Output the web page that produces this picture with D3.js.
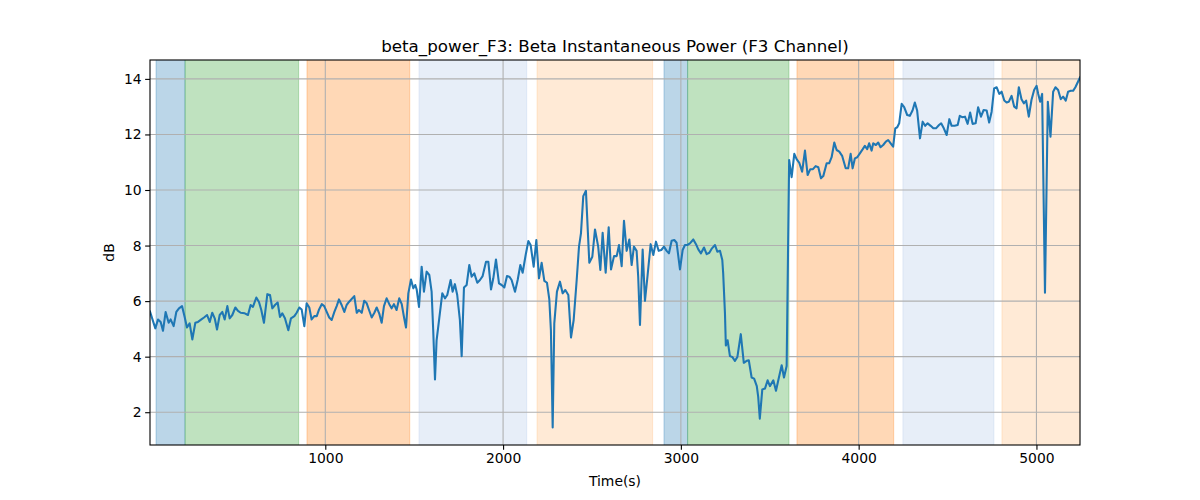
<!DOCTYPE html>
<html>
<head>
<meta charset="utf-8">
<script src="https://cdn.jsdelivr.net/npm/d3@7"></script>
<style>
  html, body { margin: 0; padding: 0; background: #ffffff; }
  svg { display: block; }
  text { font-family: "DejaVu Sans", sans-serif; fill: #000; }
</style>
</head>
<body>
<svg id="chart" width="1200" height="500"></svg>
<script>
// ---- data ----
const times = [
  14, 44, 59, 74, 87, 102, 119, 130, 147, 162, 177, 194, 209, 222, 237, 252, 269, 284, 303, 318,
  335, 350, 364, 378, 391, 406, 421, 434, 449, 462, 477, 494, 509, 524, 547, 565, 580, 593, 612, 627,
  640, 655, 674, 689, 702, 717, 732, 745, 758, 773, 792, 807, 826, 839, 854, 867, 882, 895, 910, 923,
  938, 952, 965, 980, 994, 1008, 1022, 1036, 1051, 1064, 1077, 1092, 1107, 1120, 1133, 1163, 1177, 1189, 1205, 1219,
  1233, 1246, 1261, 1276, 1289, 1303, 1317, 1330, 1345, 1360, 1373, 1386, 1401, 1416, 1430, 1443, 1454, 1467, 1482, 1495,
  1506, 1514, 1527, 1542, 1555, 1570, 1585, 1598, 1607, 1617, 1626, 1641, 1658, 1673, 1686, 1705, 1716, 1729, 1742, 1757,
  1767, 1780, 1795, 1810, 1823, 1838, 1855, 1870, 1885, 1904, 1917, 1932, 1945, 1960, 1977, 1992, 2007, 2022, 2035, 2048,
  2067, 2082, 2097, 2110, 2127, 2142, 2155, 2172, 2187, 2202, 2217, 2232, 2247, 2260, 2269, 2279, 2288, 2303, 2320, 2335,
  2350, 2367, 2382, 2397, 2414, 2427, 2438, 2451, 2466, 2485, 2502, 2517, 2535, 2547, 2560, 2577, 2594, 2607, 2624, 2639,
  2652, 2667, 2680, 2695, 2710, 2723, 2736, 2751, 2760, 2770, 2785, 2798, 2813, 2830, 2845, 2860, 2875, 2890, 2905, 2920,
  2933, 2948, 2963, 2976, 2995, 3010, 3023, 3036, 3051, 3070, 3085, 3098, 3113, 3130, 3145, 3160, 3175, 3192, 3205, 3220,
  3233, 3238, 3248, 3253, 3263, 3276, 3289, 3304, 3318, 3337, 3354, 3370, 3382, 3398, 3412, 3427, 3435, 3444, 3458, 3473,
  3488, 3501, 3520, 3535, 3548, 3567, 3580, 3595, 3609, 3623, 3638, 3651, 3666, 3682, 3698, 3713, 3728, 3743, 3758, 3773,
  3788, 3801, 3820, 3834, 3848, 3863, 3876, 3891, 3907, 3927, 3941, 3955, 3966, 3979, 3992, 4007, 4023, 4035, 4048, 4059,
  4073, 4082, 4097, 4110, 4123, 4138, 4153, 4166, 4180, 4194, 4206, 4217, 4228, 4242, 4256, 4273, 4288, 4303, 4316, 4329,
  4345, 4360, 4374, 4388, 4405, 4420, 4435, 4452, 4464, 4479, 4495, 4510, 4523, 4540, 4557, 4569, 4582, 4598, 4613, 4627,
  4641, 4658, 4672, 4688, 4703, 4720, 4734, 4748, 4762, 4776, 4791, 4804, 4819, 4832, 4845, 4860, 4875, 4888, 4901, 4916,
  4929, 4942, 4957, 4972, 4987, 5001, 5010, 5021, 5032, 5048, 5064, 5079, 5094, 5107, 5122, 5137, 5150, 5165, 5178, 5193,
  5206, 5219, 5245
];
const betaPower = [
  5.62, 5.02, 5.34, 5.25, 4.93, 5.61, 5.22, 5.34, 5.10, 5.61, 5.74, 5.82, 5.43, 5.05, 5.20, 4.62, 5.22, 5.25, 5.34, 5.41,
  5.50, 5.25, 5.58, 5.38, 4.98, 5.50, 5.61, 5.34, 5.82, 5.38, 5.50, 5.77, 5.65, 5.58, 5.56, 5.50, 5.86, 5.79, 6.13, 5.97,
  5.68, 5.22, 6.25, 6.22, 5.74, 5.86, 5.95, 5.43, 5.56, 5.38, 4.95, 5.38, 5.46, 5.58, 5.77, 5.70, 5.10, 5.92, 5.77, 5.34,
  5.46, 5.46, 5.70, 5.89, 5.82, 5.61, 5.41, 5.32, 5.61, 5.82, 6.06, 5.86, 5.61, 5.86, 5.97, 6.18, 5.58, 5.68, 5.58, 6.01,
  5.92, 5.68, 5.41, 5.58, 5.77, 5.56, 5.22, 5.82, 6.10, 5.89, 5.74, 5.89, 5.68, 6.10, 5.89, 5.41, 5.05, 6.28, 6.78, 6.46,
  6.58, 6.42, 5.79, 7.24, 6.34, 7.06, 6.94, 6.34, 4.95, 3.18, 4.59, 5.38, 6.28, 6.10, 6.22, 6.76, 6.34, 6.61, 6.22, 5.32,
  4.02, 6.49, 6.58, 7.30, 6.88, 7.00, 6.66, 6.76, 6.90, 7.42, 7.42, 6.42, 6.82, 7.50, 6.64, 6.58, 6.49, 6.90, 6.88, 6.76,
  6.34, 6.76, 7.30, 7.02, 7.66, 8.16, 8.02, 7.24, 8.20, 6.82, 7.38, 6.73, 6.66, 6.06, 4.95, 1.45, 5.20, 6.34, 6.70, 6.28,
  6.40, 6.22, 4.69, 5.32, 6.76, 7.96, 8.44, 9.78, 9.97, 7.38, 7.60, 8.58, 7.96, 7.12, 8.46, 7.02, 8.66, 7.14, 7.62, 7.62,
  8.02, 7.26, 8.89, 7.81, 8.22, 7.30, 7.96, 7.81, 6.88, 5.14, 7.86, 6.01, 6.94, 8.05, 7.66, 8.14, 7.81, 7.84, 7.96, 7.81,
  7.72, 8.17, 8.20, 8.10, 7.14, 7.84, 8.02, 8.02, 8.08, 8.22, 8.05, 7.86, 7.72, 7.93, 7.69, 7.74, 7.90, 8.02, 7.78, 7.81,
  7.48, 7.00, 5.56, 4.40, 4.59, 4.02, 3.99, 3.85, 3.99, 4.81, 3.78, 3.85, 3.87, 3.25, 3.21, 2.94, 2.55, 1.77, 2.82, 2.85,
  3.15, 2.94, 3.15, 2.77, 3.15, 3.69, 3.25, 3.66, 11.08, 10.46, 11.30, 11.11, 10.98, 10.66, 11.42, 10.54, 10.75, 10.75, 10.86, 10.82,
  10.42, 10.50, 10.96, 10.96, 11.18, 11.71, 11.44, 11.38, 11.23, 10.78, 10.78, 11.30, 10.78, 11.14, 11.18, 11.32, 11.47, 11.59, 11.47, 11.68,
  11.42, 11.68, 11.62, 11.71, 11.54, 11.62, 11.74, 11.80, 11.68, 11.56, 12.22, 12.26, 12.40, 13.10, 12.98, 12.70, 12.67, 12.86, 13.15, 12.86,
  11.86, 12.46, 12.31, 12.40, 12.31, 12.22, 12.22, 12.34, 12.40, 12.22, 11.98, 12.55, 12.31, 12.31, 12.34, 12.67, 12.62, 12.64, 12.38, 12.79,
  12.38, 12.40, 12.98, 12.64, 12.88, 12.86, 12.43, 12.82, 13.66, 13.70, 13.46, 13.54, 13.22, 13.15, 13.18, 13.39, 13.00, 12.94, 13.70, 13.27,
  13.12, 13.22, 12.64, 13.24, 13.60, 13.75, 13.46, 13.18, 13.46, 6.30, 13.18, 11.92, 13.54, 13.70, 13.60, 13.27, 13.36, 13.22, 13.54, 13.57,
  13.57, 13.70, 14.05
];

// shaded intervals (seconds) and their stage category
const spanStarts = [48, 211, 897, 1527, 2191, 2905, 3038, 3653, 4249, 4806];
const spanEnds   = [211, 850, 1475, 2133, 2841, 3038, 3608, 4197, 4761, 5300];
const spanStages = ["s1", "s2", "s3", "s4", "s5", "s1", "s2", "s3", "s4", "s5"];

const xTicks = [1000, 2000, 3000, 4000, 5000];
const yTicks = [2, 4, 6, 8, 10, 12, 14];

const titleText = "beta_power_F3: Beta Instantaneous Power (F3 Channel)";
const xLabelText = "Time(s)";
const yLabelText = "dB";

(function () {
  // ---- styles ----
  const stageColor = { s1: "#1f77b4", s2: "#2ca02c", s3: "#ff7f0e", s4: "#aec7e8", s5: "#ffbb78" };

  // ---- layout ----
  const mLeft = 150, mRight = 1080, mTop = 60, mBottom = 445;

  const svg = d3.select("#chart");
  const data = times.map((t, i) => ({ t, v: betaPower[i] }));

  const x = d3.scaleLinear().domain(d3.extent(times)).range([mLeft, mRight]);
  const [vmin, vmax] = d3.extent(betaPower);
  const pad = (vmax - vmin) * 0.05;
  const y = d3.scaleLinear().domain([vmin - pad, vmax + pad]).range([mBottom, mTop]);

  svg.append("defs").append("clipPath").attr("id", "clip")
    .append("rect").attr("x", mLeft).attr("y", mTop).attr("width", mRight - mLeft).attr("height", mBottom - mTop);

  const plot = svg.append("g").attr("clip-path", "url(#clip)");

  // spans
  const spans = spanStarts.map((s, i) => ({ s, e: spanEnds[i], stage: spanStages[i] }));
  plot.append("g").selectAll("rect").data(spans).join("rect")
    .attr("x", d => x(d.s))
    .attr("y", mTop - 5)
    .attr("width", d => x(d.e) - x(d.s))
    .attr("height", mBottom - mTop + 10)
    .attr("fill", d => stageColor[d.stage])
    .attr("fill-opacity", 0.3)
    .attr("stroke", d => stageColor[d.stage])
    .attr("stroke-opacity", 0.3)
    .attr("stroke-width", 1);

  // grid
  const grid = plot.append("g").attr("stroke", "#b0b0b0").attr("stroke-width", 1.1);
  grid.selectAll("line.gx").data(xTicks).join("line").attr("class", "gx")
    .attr("x1", d => x(d)).attr("x2", d => x(d)).attr("y1", mTop).attr("y2", mBottom);
  grid.selectAll("line.gy").data(yTicks).join("line").attr("class", "gy")
    .attr("y1", d => y(d)).attr("y2", d => y(d)).attr("x1", mLeft).attr("x2", mRight);

  // line
  const line = d3.line().x(d => x(d.t)).y(d => y(d.v));
  plot.append("path").datum(data)
    .attr("d", line)
    .attr("fill", "none")
    .attr("stroke", "#1f77b4")
    .attr("stroke-width", 2.08)
    .attr("stroke-linejoin", "round")
    .attr("stroke-linecap", "square");

  // axes
  const xAxis = d3.axisBottom(x).tickValues(xTicks).tickSize(4.86).tickPadding(3.5).tickFormat(d3.format("d"));
  const yAxis = d3.axisLeft(y).tickValues(yTicks).tickSize(4.86).tickPadding(3.5).tickFormat(d3.format("d"));

  const gx = svg.append("g").attr("transform", `translate(0,${mBottom})`).call(xAxis);
  const gy = svg.append("g").attr("transform", `translate(${mLeft},0)`).call(yAxis);
  [gx, gy].forEach(g => {
    g.select(".domain").remove();
    g.selectAll(".tick line").attr("stroke", "#000").attr("stroke-width", 1.1);
    g.selectAll(".tick text").attr("font-family", "DejaVu Sans, sans-serif").attr("font-size", 13.9).attr("fill", "#000");
  });

  // frame
  svg.append("rect").attr("x", mLeft).attr("y", mTop).attr("width", mRight - mLeft).attr("height", mBottom - mTop)
    .attr("fill", "none").attr("stroke", "#000").attr("stroke-width", 1.1);

  // title & labels
  svg.append("text").attr("x", (mLeft + mRight) / 2).attr("y", 52)
    .attr("text-anchor", "middle").attr("font-size", 16.7).text(titleText);
  svg.append("text").attr("x", (mLeft + mRight) / 2).attr("y", 486)
    .attr("text-anchor", "middle").attr("font-size", 13.9).text(xLabelText);
  svg.append("text").attr("transform", `translate(114,${(mTop + mBottom) / 2}) rotate(-90)`)
    .attr("text-anchor", "middle").attr("font-size", 13.9).text(yLabelText);
})();
</script>
</body>
</html>
